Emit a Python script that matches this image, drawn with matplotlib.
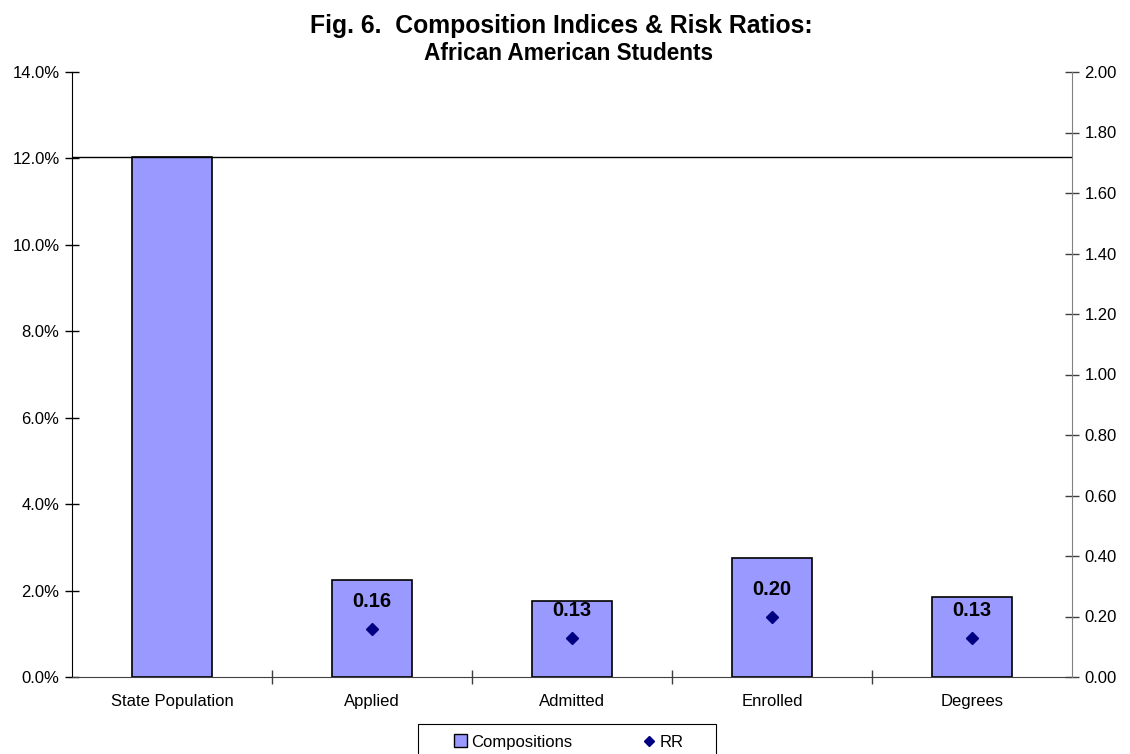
import matplotlib
matplotlib.use("Agg")
import matplotlib.pyplot as plt
from matplotlib.ticker import FuncFormatter, FixedLocator, NullFormatter
from matplotlib.lines import Line2D
from matplotlib.patches import Patch, Rectangle

plt.rcParams['font.family'] = ['Liberation Sans', 'DejaVu Sans']

categories = ["State Population", "Applied", "Admitted", "Enrolled", "Degrees"]
compositions = [12.04, 2.25, 1.76, 2.75, 1.86]   # percent
rr_values = [None, 0.16, 0.13, 0.20, 0.13]
rr_labels = ["", "0.16", "0.13", "0.20", "0.13"]
left_ticks = [0, 2, 4, 6, 8, 10, 12, 14]
right_ticks = [0.0, 0.2, 0.4, 0.6, 0.8, 1.0, 1.2, 1.4, 1.6, 1.8, 2.0]
title_lines = ["Fig. 6.  Composition Indices & Risk Ratios:", "African American Students"]

W, H = 1130, 754
fig = plt.figure(figsize=(W / 100, H / 100), dpi=100)
ax = fig.add_axes([72/W, 1 - 677/H, 1000/W, 605/H])
ax2 = ax.twinx()

x = list(range(len(categories)))
bar_color = "#9999FF"
ax.bar(x, compositions, width=0.4, color=bar_color, edgecolor="black", linewidth=1.2, zorder=2)
ax.axhline(compositions[0], color="black", linewidth=1.0, zorder=3)

ax.set_xlim(-0.5, len(categories) - 0.5)
ax.set_ylim(0, 14)
ax.set_yticks(left_ticks)
ax.yaxis.set_major_formatter(FuncFormatter(lambda v, p: f"{v:.1f}%"))
ax.tick_params(axis="y", direction="inout", length=10, width=1, labelsize=12, colors="black", pad=4)

ax.set_xticks(x)
ax.set_xticklabels(categories, fontsize=12)
ax.tick_params(axis="x", which="major", length=0, pad=12)
ax.xaxis.set_minor_locator(FixedLocator([i + 0.5 for i in range(len(categories) - 1)]))
ax.xaxis.set_minor_formatter(NullFormatter())
ax.tick_params(axis="x", which="minor", direction="inout", length=10, width=1, color="#404040")

ax.spines["top"].set_visible(False)
ax2.spines["top"].set_visible(False)
ax.spines["left"].set_color("black")
ax.spines["bottom"].set_color("#404040")
ax.spines["right"].set_visible(False)
ax2.spines["left"].set_visible(False)
ax2.spines["bottom"].set_visible(False)
ax2.spines["right"].set_color("#808080")

ax2.set_ylim(0, 2.0)
ax2.set_yticks(right_ticks)
ax2.yaxis.set_major_formatter(FuncFormatter(lambda v, p: f"{v:.2f}"))
ax2.tick_params(axis="y", direction="inout", length=10, width=1, labelsize=12, color="#404040", pad=4)

rr_x = [xi for xi, r in zip(x, rr_values) if r is not None]
rr_y = [r for r in rr_values if r is not None]
ax2.plot(rr_x, rr_y, linestyle="none", marker="D", markersize=6.5, color="#000080", zorder=4)
for xi, r, lab in zip(x, rr_values, rr_labels):
    if r is None:
        continue
    ax2.annotate(lab, (xi, r), xytext=(0, 19.5), textcoords="offset points",
                 ha="center", va="center", fontsize=14.5, fontweight="bold")

# two-line title, first line slightly larger
fig.text(561/W, 1 - 33.5/H, title_lines[0], ha="center", va="baseline",
         fontsize=17.8, fontweight="bold")
fig.text(569/W, 1 - 60/H, title_lines[1], ha="center", va="baseline",
         fontsize=16.3, fontweight="bold")

# legend entries, with a wide frame drawn separately
handles = [Patch(facecolor=bar_color, edgecolor="black", linewidth=1.0),
           Line2D([], [], linestyle="none", marker="D", markersize=5.5, color="#000080")]
fig.legend(handles, ["Compositions", "RR"], loc="center",
           bbox_to_anchor=(569/W, 1 - 742/H), ncol=2, fontsize=12,
           frameon=False, columnspacing=4.2, handlelength=0.8, handleheight=0.8,
           handletextpad=0.25, borderaxespad=0, borderpad=0)
fig.add_artist(Rectangle((418/W, 1 - 770/H), 298/W, 46/H, transform=fig.transFigure,
                         facecolor="none", edgecolor="black", linewidth=0.8))

fig.savefig("out.png", dpi=100)
